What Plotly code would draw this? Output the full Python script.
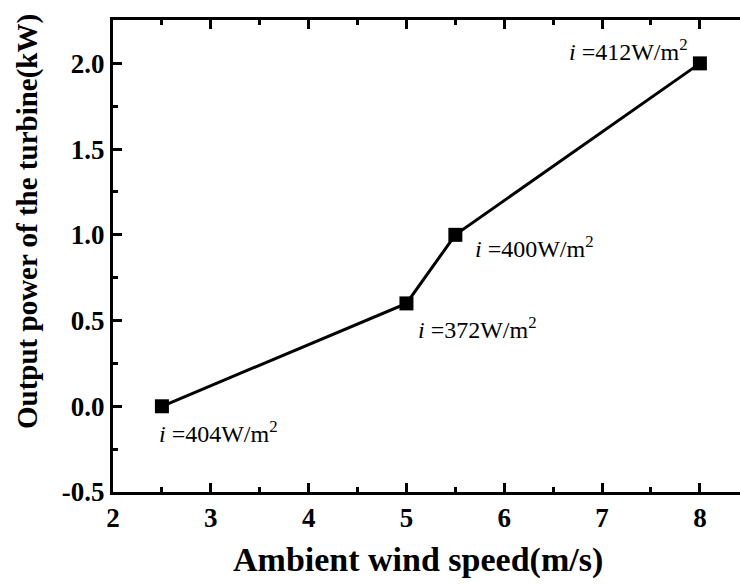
import plotly.graph_objects as go

wind_speed = [2.5, 5.0, 5.5, 8.0]
power_kw = [0.0, 0.6, 1.0, 2.0]
irradiance = [404, 372, 400, 412]

x_ticks = [2, 3, 4, 5, 6, 7, 8]
y_ticks = [-0.5, 0.0, 0.5, 1.0, 1.5, 2.0]
y_tick_text = ["-0.5", "0.0", "0.5", "1.0", "1.5", "2.0"]

W, H = 740, 585
ML, MR, MT, MB = 113, 0, 20, 93
X0, X1 = 2.0, 8.41
Y0, Y1 = -0.5, 2.253

serif = "Liberation Serif, Times New Roman, serif"

fig = go.Figure()
fig.add_trace(go.Scatter(
    x=wind_speed, y=power_kw, mode="lines+markers",
    line=dict(color="black", width=3),
    marker=dict(symbol="square", size=14, color="black"),
    showlegend=False, cliponaxis=False,
))

# label offsets (pixels) relative to each point: (xshift, yshift, xanchor)
label_pos = [(-5, -26, "left"), (10, -25, "left"), (18, -12, "left"), (-10, 13, "right")]
for xv, yv, irr, (dx, dy, xa) in zip(wind_speed, power_kw, irradiance, label_pos):
    fig.add_annotation(
        x=xv, y=yv, xref="x", yref="y",
        text=f"<i>i</i> =%dW/m<sup>2</sup>" % irr,
        showarrow=False, xanchor=xa, yanchor="middle",
        xshift=dx, yshift=dy,
        font=dict(family=serif, size=24, color="black"),
    )

plot_w = W - ML - MR
plot_h = H - MT - MB
fig.add_annotation(
    xref="paper", yref="paper",
    x=(27 - ML) / plot_w, y=(H - MB - 222) / plot_h,
    text="<b>Output power of the turbine(kW)</b>", textangle=-90,
    showarrow=False, xanchor="center", yanchor="middle",
    font=dict(family=serif, size=29, color="black"),
)
fig.add_annotation(
    xref="paper", yref="paper",
    x=(418 - ML) / plot_w, y=-(560 - (H - MB)) / plot_h,
    text="<b>Ambient wind speed(m/s)</b>",
    showarrow=False, xanchor="center", yanchor="middle",
    font=dict(family=serif, size=34, color="black"),
)

fig.update_layout(
    width=W, height=H,
    margin=dict(l=ML, r=MR, t=MT, b=MB, pad=0),
    paper_bgcolor="white", plot_bgcolor="white",
    xaxis=dict(
        range=[X0, X1], tickvals=x_ticks, showgrid=False, zeroline=False,
        showline=True, linecolor="black", linewidth=3, mirror="allticks",
        ticks="inside", ticklen=9, tickwidth=3, tickcolor="black",
        minor=dict(dtick=0.5, ticks="inside", ticklen=5, tickwidth=3, tickcolor="black", showgrid=False),
        tickfont=dict(family=serif, size=27, color="black", weight="bold"),
    ),
    yaxis=dict(
        range=[Y0, Y1], tickvals=y_ticks, ticktext=y_tick_text, showgrid=False, zeroline=False,
        showline=True, linecolor="black", linewidth=3, mirror=False,
        ticks="inside", ticklen=9, tickwidth=3, tickcolor="black",
        minor=dict(dtick=0.25, ticks="inside", ticklen=5, tickwidth=3, tickcolor="black", showgrid=False),
        tickfont=dict(family=serif, size=27, color="black", weight="bold"),
    ),
)

fig.write_html("out.html")
